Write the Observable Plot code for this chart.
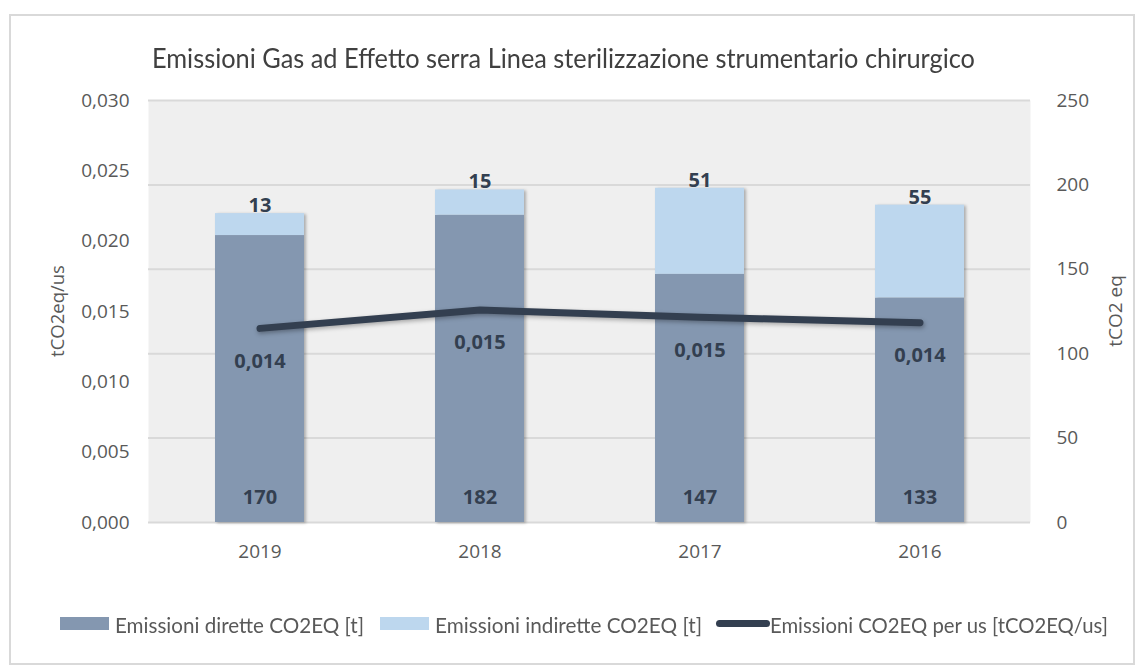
<!DOCTYPE html>
<html><head><meta charset="utf-8">
<script src="https://cdn.jsdelivr.net/npm/d3@7"></script>
<script src="https://cdn.jsdelivr.net/npm/@observablehq/plot@0.6"></script>
<style>
html,body{margin:0;padding:0;background:#fff;}
#wrap{position:relative;width:1142px;height:671px;overflow:hidden;font-family:"Open Sans",sans-serif;}
#frame{position:absolute;left:9px;top:14px;width:1126px;height:651px;border:2px solid #d9d9d9;box-sizing:border-box;}
#chart{position:absolute;left:0;top:0;}
.fit{position:absolute;white-space:nowrap;transform-origin:0 50%;line-height:1;}
.sw{position:absolute;}
.ax{position:absolute;white-space:nowrap;transform:translate(-50%,-50%) rotate(-90deg);color:#595959;line-height:1;}
</style></head><body>
<div id="wrap"><div id="frame"></div><div id="chart"></div></div>
<script>
// ---- data ----
const years = ["2019", "2018", "2017", "2016"];
const direct = [170, 182, 147, 133];      // Emissioni dirette CO2EQ [t]
const indirect = [13, 15, 51, 55];        // Emissioni indirette CO2EQ [t]
const perUs = [0.0138, 0.0151, 0.0146, 0.0142]; // Emissioni CO2EQ per us [tCO2EQ/us]
const rightTicks = [0, 50, 100, 150, 200, 250];
const leftTicks = [0, 0.005, 0.010, 0.015, 0.020, 0.025, 0.030];
const seriesNames = ["Emissioni dirette CO2EQ [t]", "Emissioni indirette CO2EQ [t]", "Emissioni CO2EQ per us [tCO2EQ/us]"];
const titleText = "Emissioni Gas ad Effetto serra Linea sterilizzazione strumentario chirurgico";
const colors = ["#8497b0", "#bdd7ee", "#333f50"];

const K = 250 / 0.030; // left-axis value -> right-axis scale units
const fmt3 = v => d3.format(".3f")(v).replace(".", ",");

const rows = [];
years.forEach((y, i) => {
  rows.push({year: y, type: "diretta", value: direct[i]});
  rows.push({year: y, type: "indiretta", value: indirect[i]});
});

const labelStyle = {fontWeight: 700, fontSize: 20, fill: "#333f50", fontFamily: "Open Sans"};

const plot = Plot.plot({
  width: 1142, height: 671,
  marginLeft: 148, marginRight: 112, marginTop: 100, marginBottom: 149,
  style: {fontFamily: "Open Sans", fontSize: "19px", color: "#595959", background: "transparent", overflow: "visible"},
  x: {type: "band", domain: years, paddingInner: 0.596, paddingOuter: 0.298, label: null},
  y: {domain: [0, 250], label: null},
  color: {domain: ["diretta", "indiretta"], range: [colors[0], colors[1]]},
  marks: [
    Plot.frame({fill: "#efefef", stroke: null}),
    Plot.ruleY(rightTicks, {stroke: "#d9d9d9", strokeWidth: 2}),
    Plot.barY(rows, Plot.stackY({x: "year", y: "value", fill: "type", className: "bars"})),
    Plot.line(years, {x: d => d, y: (d, i) => perUs[i] * K, stroke: colors[2], strokeWidth: 7,
      strokeLinecap: "round", strokeLinejoin: "round", curve: "linear", className: "trend"}),
    Plot.text(years, {x: d => d, y: (d, i) => 0, text: (d, i) => String(direct[i]), dy: -25, ...labelStyle}),
    Plot.text(years, {x: d => d, y: (d, i) => direct[i] + indirect[i], text: (d, i) => String(indirect[i]), dy: -8, ...labelStyle}),
    Plot.text(years, {x: d => d, y: (d, i) => perUs[i] * K, text: (d, i) => fmt3(perUs[i]), dy: 33, ...labelStyle}),
    Plot.axisY(rightTicks, {anchor: "right", tickSize: 0, tickPadding: 26, label: null}),
    Plot.axisY(leftTicks.map(v => v * K), {anchor: "left", tickSize: 0, tickPadding: 19, label: null,
      tickFormat: v => fmt3(v / K)}),
    Plot.axisX({tickSize: 0, tickPadding: 22, label: null})
  ]
});
document.getElementById("chart").appendChild(plot);
plot.querySelectorAll("g.bars, g[aria-label=bar]").forEach(g => g.style.filter = "drop-shadow(2px 1px 1.5px rgba(0,0,0,0.28))");
plot.querySelectorAll("g.trend, g[aria-label=line]").forEach(g => g.style.filter = "drop-shadow(1px 2px 2px rgba(0,0,0,0.3))");

// ---- HTML title / legend / axis titles ----
const wrap = document.getElementById("wrap");
function fitText(txt, left, cy, width, size, color, family) {
  const s = document.createElement("span");
  s.className = "fit";
  s.textContent = txt;
  s.style.fontSize = size + "px";
  s.style.fontFamily = family;
  s.style.color = color;
  s.style.left = left + "px";
  s.style.top = (cy - size / 2) + "px";
  wrap.appendChild(s);
  const w = s.getBoundingClientRect().width;
  s.style.transform = `scaleX(${width / w})`;
  return s;
}
fitText(titleText, 152, 57, 823, 27, "#404040", "Lato");
function swatch(left, top, w, h, color, radius) {
  const d = document.createElement("div");
  d.className = "sw";
  Object.assign(d.style, {left: left + "px", top: top + "px", width: w + "px", height: h + "px", background: color, borderRadius: (radius || 0) + "px"});
  wrap.appendChild(d);
}
swatch(60, 617, 49, 13, colors[0]);
fitText(seriesNames[0], 115, 624, 249, 21, "#595959", "Lato");
swatch(380, 617, 49, 13, colors[1]);
fitText(seriesNames[1], 435, 624, 267, 21, "#595959", "Lato");
swatch(716, 620, 54, 7, colors[2], 4);
fitText(seriesNames[2], 770, 624, 338, 21, "#595959", "Lato");

function axTitle(txt, cx, cy, size) {
  const d = document.createElement("div");
  d.className = "ax";
  d.textContent = txt;
  d.style.fontSize = size + "px";
  d.style.left = cx + "px";
  d.style.top = cy + "px";
  wrap.appendChild(d);
}
axTitle("tCO2eq/us", 57, 311, 18.5);
axTitle("tCO2 eq", 1115, 311, 19);
</script>
</body></html>
